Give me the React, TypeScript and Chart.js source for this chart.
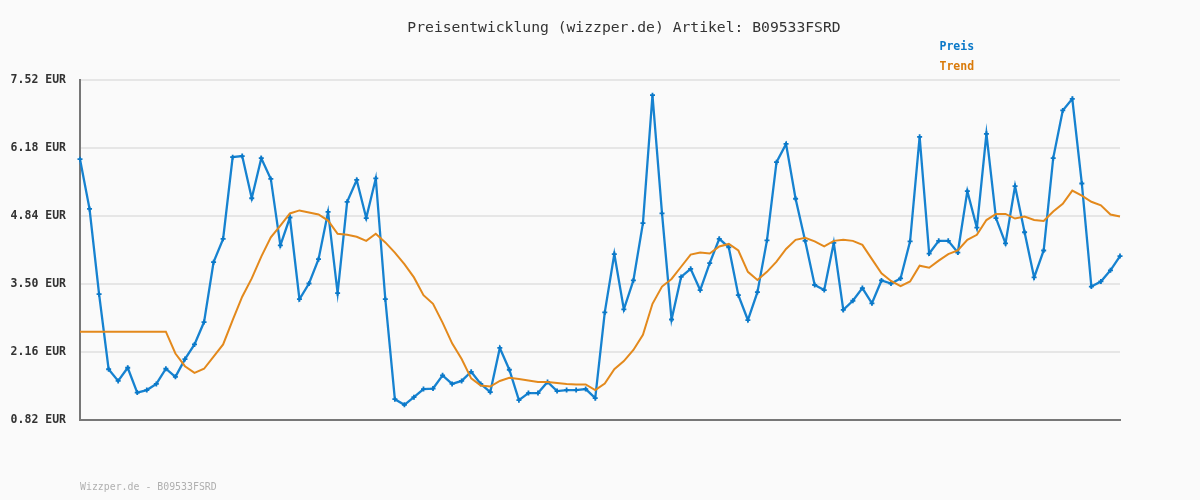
import React, { useEffect, useRef } from "react";
import { Chart, registerables } from "chart.js";

Chart.register(...registerables);

const TITLE = "Preisentwicklung (wizzper.de) Artikel: B09533FSRD";
const FOOTER = "Wizzper.de - B09533FSRD";
const SERIES_NAMES = ["Preis", "Trend"];

const price: number[] = [
  5.96, 4.98, 3.30, 1.82, 1.59, 1.85, 1.36, 1.41, 1.53, 1.83,
  1.67, 2.02, 2.31, 2.75, 3.93, 4.39, 6.00, 6.02, 5.19, 5.98,
  5.57, 4.26, 4.81, 3.20, 3.51, 3.99, 4.92, 3.32, 5.12, 5.55,
  4.80, 5.58, 3.20, 1.23, 1.12, 1.27, 1.43, 1.44, 1.70, 1.53,
  1.59, 1.77, 1.53, 1.37, 2.24, 1.81, 1.21, 1.35, 1.35, 1.57,
  1.39, 1.41, 1.41, 1.43, 1.25, 2.94, 4.09, 3.00, 3.57, 4.70,
  7.22, 4.89, 2.80, 3.64, 3.80, 3.38, 3.91, 4.39, 4.22, 3.28,
  2.79, 3.34, 4.36, 5.90, 6.26, 5.18, 4.35, 3.48, 3.38, 4.31,
  2.99, 3.17, 3.42, 3.12, 3.57, 3.51, 3.61, 4.34, 6.40, 4.10,
  4.35, 4.35, 4.12, 5.33, 4.61, 6.46, 4.80, 4.30, 5.43, 4.52,
  3.63, 4.16, 5.98, 6.92, 7.15, 5.48, 3.45, 3.55, 3.77, 4.05,
];

const trend: number[] = [
  2.56, 2.56, 2.56, 2.56, 2.56, 2.56, 2.56, 2.56, 2.56, 2.56,
  2.13, 1.88, 1.75, 1.83, 2.07, 2.31, 2.79, 3.25, 3.61, 4.04,
  4.42, 4.65, 4.89, 4.95, 4.91, 4.87, 4.75, 4.49, 4.47, 4.43,
  4.35, 4.49, 4.32, 4.12, 3.89, 3.63, 3.28, 3.11, 2.74, 2.33,
  2.02, 1.64, 1.50, 1.48, 1.59, 1.65, 1.63, 1.60, 1.57, 1.57,
  1.55, 1.53, 1.52, 1.52, 1.41, 1.54, 1.82, 1.98, 2.20, 2.50,
  3.11, 3.45, 3.60, 3.84, 4.08, 4.12, 4.10, 4.24, 4.29, 4.16,
  3.74, 3.58, 3.74, 3.94, 4.19, 4.37, 4.41, 4.34, 4.24, 4.35,
  4.37, 4.35, 4.27, 3.99, 3.71, 3.56, 3.46, 3.55, 3.86, 3.82,
  3.96, 4.09, 4.16, 4.37, 4.47, 4.76, 4.88, 4.88, 4.79, 4.83,
  4.76, 4.74, 4.93, 5.08, 5.34, 5.24, 5.12, 5.05, 4.87, 4.83,
];

const categories: string[] = price.map((_, i) => String(i + 1));

const yTicks: number[] = [0.82, 2.16, 3.5, 4.84, 6.18, 7.52];

const BLUE = "#1682d0";
const BLUE_TEXT = "#0a78c8";
const ORANGE = "#e3891c";
const ORANGE_TEXT = "#d97a0a";
const BG = "#fafafa";
const MONO = "'DejaVu Sans Mono', 'Liberation Mono', monospace";

const decorPlugin = {
  id: "decor",
  beforeDraw(chart: any) {
    const ctx = chart.ctx;
    ctx.save();
    ctx.fillStyle = BG;
    ctx.fillRect(0, 0, chart.width, chart.height);
    ctx.restore();
  },
  afterDraw(chart: any) {
    const ctx = chart.ctx;
    ctx.save();
    ctx.textBaseline = "middle";
    ctx.font = `14.7px ${MONO}`;
    ctx.fillStyle = "#333333";
    ctx.textAlign = "center";
    ctx.fillText(TITLE, 624, 28);

    ctx.font = `bold 11.5px ${MONO}`;
    ctx.textAlign = "left";
    ctx.fillStyle = BLUE_TEXT;
    ctx.fillText(SERIES_NAMES[0], 939.5, 47);
    ctx.fillStyle = ORANGE_TEXT;
    ctx.fillText(SERIES_NAMES[1], 939.5, 67);

    ctx.font = `9.9px ${MONO}`;
    ctx.fillStyle = "#b0b0b0";
    ctx.fillText(FOOTER, 80, 487);
    ctx.restore();
  },
};

export default function App() {
  const ref = useRef<HTMLCanvasElement | null>(null);

  useEffect(() => {
    document.body.style.margin = "0";
    document.body.style.background = BG;
    if (!ref.current) return;
    const chart = new Chart(ref.current, {
      type: "line",
      data: {
        labels: categories,
        datasets: [
          {
            label: SERIES_NAMES[1],
            data: trend,
            borderColor: ORANGE,
            borderWidth: 2,
            pointRadius: 0,
            tension: 0,
            fill: false,
          },
          {
            label: SERIES_NAMES[0],
            data: price,
            borderColor: BLUE,
            backgroundColor: BLUE,
            borderWidth: 2.3,
            pointStyle: "cross",
            pointRadius: 2.5,
            pointBorderWidth: 1.8,
            pointBorderColor: "#0a78c8",
            tension: 0,
            fill: false,
          },
        ],
      },
      options: {
        animation: false,
        responsive: false,
        maintainAspectRatio: false,
        layout: { padding: { left: 0, right: 80, top: 80, bottom: 80 } },
        plugins: {
          legend: { display: false },
          title: { display: false },
          tooltip: { enabled: false },
        },
        scales: {
          x: {
            type: "category",
            offset: false,
            grid: { display: false, drawTicks: false },
            ticks: { display: false },
            border: { display: true, color: "#777777", width: 2 },
            afterFit: (s: any) => {
              s.height = 0;
            },
          },
          y: {
            min: 0.82,
            max: 7.52,
            afterBuildTicks: (s: any) => {
              s.ticks = yTicks.map((v) => ({ value: v }));
            },
            afterFit: (s: any) => {
              s.width = 80;
            },
            grid: { color: "#e6e6e6", lineWidth: 2, drawTicks: false },
            border: { display: true, color: "#777777", width: 2 },
            ticks: {
              padding: 14,
              color: "#333333",
              font: { family: MONO, size: 11.5, weight: "bold" },
              callback: (v: any) => Number(v).toFixed(2) + " EUR",
            },
          },
        },
      },
      plugins: [decorPlugin],
    });
    return () => chart.destroy();
  }, []);

  return (
    <div style={{ position: "absolute", left: 0, top: 0, width: 1200, height: 500, background: BG }}>
      <canvas ref={ref} width={1200} height={500} />
    </div>
  );
}
